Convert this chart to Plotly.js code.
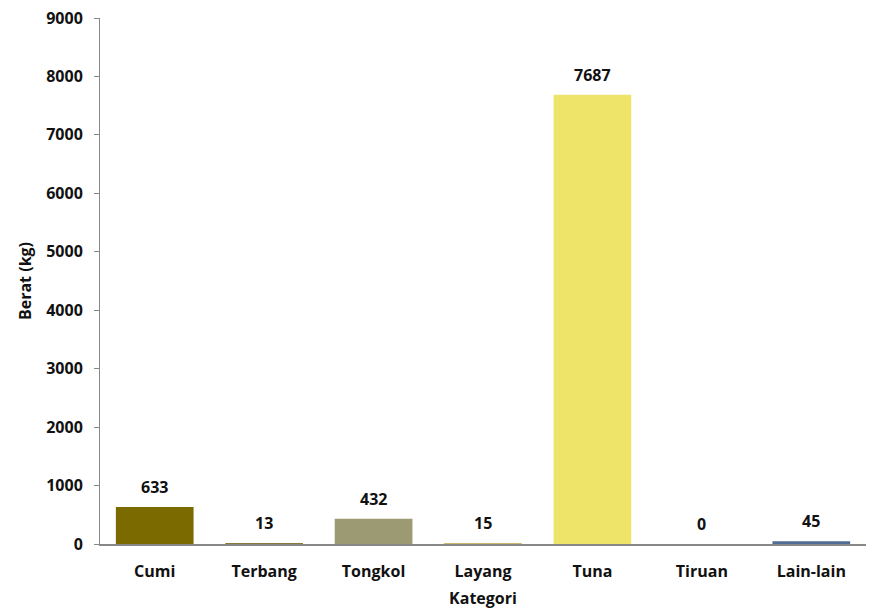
<!DOCTYPE html>
<html>
<head>
<meta charset="utf-8">
<script src="https://cdn.plot.ly/plotly-3.0.1.min.js"></script>
<style>html,body{margin:0;padding:0;background:#fff;}#chart{width:870px;height:614px;}</style>
</head>
<body>
<div id="chart"></div>
<script>
const categories = ["Cumi", "Terbang", "Tongkol", "Layang", "Tuna", "Tiruan", "Lain-lain"];
const weights = [633, 13, 432, 15, 7687, 0, 45];
const barColors = ["#7b6a00", "#8a7a3a", "#9c9a73", "#c9b86a", "#efe46a", "#999999", "#4f6d95"];
const yTicks = [0, 1000, 2000, 3000, 4000, 5000, 6000, 7000, 8000, 9000];

const font = "Open Sans, Lato, DejaVu Sans, sans-serif";
const bold = {family: font, size: 16, color: "#111", weight: "bold"};

const labels = categories.map((c, i) => ({
  x: c, y: weights[i], xref: "x", yref: "y",
  text: String(weights[i]), showarrow: false,
  yanchor: "bottom", yshift: 7, font: bold
}));

Plotly.newPlot("chart", [{
  type: "bar",
  x: categories,
  y: weights,
  marker: {color: barColors},
  hoverinfo: "x+y"
}], {
  width: 870, height: 614,
  margin: {l: 100, r: 4, t: 18, b: 70},
  paper_bgcolor: "#fff", plot_bgcolor: "#fff",
  bargap: 0.29,
  showlegend: false,
  font: {family: font, color: "#111"},
  annotations: labels,
  xaxis: {
    showline: true, linecolor: "#888", linewidth: 2,
    layer: "above traces",
    ticks: "", showgrid: false, zeroline: false,
    ticklabelstandoff: 12,
    tickfont: bold,
    automargin: false,
    title: {text: "Kategori", font: bold, standoff: 12}
  },
  yaxis: {
    range: [0, 9000], tickvals: yTicks, ticktext: yTicks.map(String),
    showline: true, linecolor: "#888", linewidth: 1,
    ticks: "outside", ticklen: 5, tickcolor: "#888",
    ticklabelstandoff: 8,
    showgrid: false, zeroline: false,
    tickfont: bold,
    automargin: false,
    title: {text: "Berat (kg)", font: bold, standoff: 10}
  }
}, {displayModeBar: false});
</script>
</body>
</html>
